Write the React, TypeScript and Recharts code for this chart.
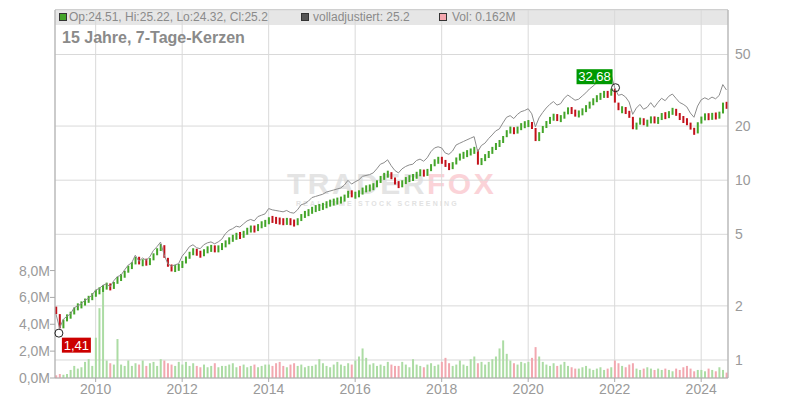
import {
  ComposedChart,
  Bar,
  Line,
  XAxis,
  YAxis,
  CartesianGrid,
  Cell,
  ReferenceDot,
} from 'recharts';

// months after Jan 2009 of the first candle (Feb 2009)
const firstMonth = 1;
const firstOpen = 1.98;

// monthly closes, Feb 2009 .. Aug 2024
const closes = [
  // 2009
  1.8, 1.5, 1.68, 1.75, 1.8, 1.95, 2.0, 2.05, 2.15, 2.2, 2.3,
  // 2010
  2.4, 2.45, 2.55, 2.6, 2.5, 2.7, 2.85, 2.9, 3.1, 3.3, 3.4, 3.75,
  // 2011
  3.4, 3.55, 3.45, 3.6, 3.9, 4.1, 4.35, 3.7, 3.3, 3.2, 3.25, 3.3,
  // 2012
  3.5, 3.7, 3.95, 4.05, 3.9, 3.85, 4.05, 4.15, 4.2, 4.1, 4.2, 4.35,
  // 2013
  4.5, 4.7, 4.8, 4.95, 4.9, 5.1, 5.3, 5.4, 5.3, 5.6, 5.7, 5.8,
  // 2014
  6.1, 6.0, 5.95, 5.9, 5.85, 5.95, 5.8, 5.75, 6.0, 6.4, 6.5, 6.7,
  // 2015
  6.9, 7.0, 7.1, 7.2, 7.4, 7.5, 7.6, 7.7, 7.8, 8.1, 8.6, 8.2,
  // 2016
  8.3, 8.5, 8.9, 9.0, 9.1, 9.3, 9.8, 10.4, 10.6, 11.0, 10.2, 9.6,
  // 2017
  9.3, 9.8, 10.1, 10.3, 10.4, 10.9, 11.1, 10.8, 11.3, 12.2, 12.8, 13.0,
  // 2018
  12.8, 12.0, 11.8, 12.3, 13.3, 13.6, 13.9, 14.2, 14.5, 14.8, 12.2, 13.2,
  // 2019
  13.5, 14.3, 15.0, 15.8, 16.2, 17.5, 18.8, 19.2, 18.5, 19.5, 20.2, 20.5,
  // 2020
  20.8, 19.5, 16.5, 18.5, 19.8, 21.0, 22.0, 22.8, 21.8, 22.2, 23.8, 24.8,
  // 2021
  24.0, 23.2, 23.5, 24.5, 25.5, 26.8, 27.8, 29.0, 29.5, 30.5, 29.5, 32.3,
  // 2022
  27.0, 24.5, 24.8, 24.0, 22.5, 19.2, 20.8, 21.8, 20.5, 21.0, 22.3, 21.0,
  // 2023
  22.0, 23.2, 22.5, 23.8, 24.5, 23.2, 22.0, 21.5, 20.8, 19.2, 18.2, 21.0,
  // 2024
  22.2, 22.8, 22.3, 23.0, 22.5, 23.5, 27.0, 25.2,
];

// weekly volume level per month, in millions
const volumes = [
  0.2, 0.3, 0.25, 0.3, 0.6, 0.9, 0.7, 0.8, 1.2, 1.4, 0.9,
  3.0, 5.2, 6.9, 1.3, 1.1, 1.0, 2.9, 1.0, 0.9, 1.3, 0.9, 1.1,
  1.0, 1.3, 0.9, 1.1, 1.2, 0.9, 1.4, 1.3, 1.1, 1.0, 0.9, 1.2,
  1.0, 1.2, 0.9, 1.1, 0.9, 0.8, 1.0, 0.8, 0.9, 1.1, 0.8, 0.9,
  0.9, 1.0, 1.1, 0.8, 0.9, 1.0, 0.8, 0.9, 1.0, 0.8, 0.9, 1.0,
  1.0, 0.9, 1.1, 1.2, 0.9, 0.8, 1.0, 1.1, 0.9, 1.0, 0.8, 0.9,
  0.9, 1.0, 1.4, 1.1, 0.9, 0.8, 1.0, 1.2, 1.0, 0.9, 1.1, 1.0,
  1.3, 1.6, 2.2, 1.5, 1.0, 1.1, 0.9, 1.0, 0.9, 1.2, 1.0, 0.9,
  0.9, 1.2, 1.0, 0.8, 1.4, 1.0, 0.9, 0.8, 1.0, 1.1, 0.9, 1.0,
  1.2, 1.5, 1.1, 0.9, 1.0, 1.3, 1.0, 0.9, 1.4, 1.6, 1.1, 1.2,
  1.0, 1.2, 1.4, 1.6, 2.2, 2.8, 1.8, 1.3, 1.1, 1.0, 1.2, 1.1,
  1.2, 1.5, 2.3, 1.6, 1.2, 1.0, 0.9, 1.1, 0.9, 1.0, 1.2, 0.9,
  0.8, 0.7, 0.7, 0.8, 0.9, 0.7, 0.6, 0.7, 0.8, 0.6, 0.7, 0.8,
  1.3, 1.1, 0.9, 0.8, 1.0, 1.1, 0.7, 0.6, 0.7, 0.8, 0.7, 0.6,
  0.7, 0.6, 0.7, 0.6, 0.5, 0.7, 0.6, 0.8, 0.9, 0.7, 0.5, 0.6,
  0.6, 0.5, 0.7, 0.6, 0.5, 0.8, 0.6, 0.4,
];

// how far the adjusted line sits above the candles, per year 2009..2024
const adjGap = [1.0, 1.02, 1.04, 1.08, 1.12, 1.14, 1.16, 1.18, 1.18, 1.18, 1.19, 1.2, 1.2, 1.21, 1.23, 1.26];

const yearTicks = [2010, 2012, 2014, 2016, 2018, 2020, 2022, 2024];
const priceTicks = [1, 2, 5, 10, 20, 50];
const volTicks = [0, 2, 4, 6, 8];

const lowPoint = { t: 2009.15, v: 1.41, label: '1,41' };
const highPoint = { t: 2022.02, v: 32.68, label: '32,68' };

const GREEN = '#44a52a';
const RED = '#c3121b';

const data = closes.map((c, i) => {
  const m = firstMonth + i;
  const open = i === 0 ? firstOpen : closes[i - 1];
  const yr = Math.floor(m / 12);
  return {
    t: 2009 + m / 12,
    body: [Math.min(open, c), Math.max(open, c)],
    up: c >= open,
    vol: volumes[i],
    adj: c * adjGap[yr],
  };
});

const font = '"Liberation Sans", Arial, sans-serif';
const axisTick = { fill: '#9a9a9a', fontSize: 14, fontFamily: font };

// candle body, drawn at least a few pixels tall like the dense weekly candles
function Candle(p: any) {
  const { x, y, width, height, fill } = p;
  if (x == null || y == null) return null;
  const minH = 7;
  let top = y;
  let h = Math.abs(height);
  if (height < 0) top = y + height;
  if (h < minH) {
    top = top + h / 2 - minH / 2;
    h = minH;
  }
  return <rect x={x} y={top} width={width} height={h} fill={fill} />;
}

function LowMarker(p: any) {
  const { cx, cy } = p;
  return (
    <g>
      <circle cx={cx} cy={cy} r={4} fill="none" stroke="#222" strokeWidth={1} />
      <rect x={cx + 3} y={cy + 4.5} width={29} height={15} fill="#cc0000" />
      <text x={cx + 17.5} y={cy + 16.5} textAnchor="middle" fill="#fff" fontSize={13} fontFamily={font}>
        {lowPoint.label}
      </text>
    </g>
  );
}

function HighMarker(p: any) {
  const { cx, cy } = p;
  return (
    <g>
      <circle cx={cx} cy={cy} r={4} fill="none" stroke="#222" strokeWidth={1} />
      <rect x={cx - 39} y={cy - 18.5} width={36} height={15} fill="#009900" />
      <text x={cx - 21} y={cy - 6.5} textAnchor="middle" fill="#fff" fontSize={13} fontFamily={font}>
        {highPoint.label}
      </text>
    </g>
  );
}

const sq = (left: number, color: string) => (
  <div
    style={{
      position: 'absolute',
      left,
      top: 13,
      width: 6,
      height: 6,
      background: color,
      border: '1px solid #333',
    }}
  />
);

const legendText = (left: number, text: string) => (
  <div
    style={{
      position: 'absolute',
      left,
      top: 11,
      fontSize: 12,
      lineHeight: '12px',
      color: '#8a8a8a',
      fontFamily: font,
      whiteSpace: 'nowrap',
    }}
  >
    {text}
  </div>
);

export default function App() {
  return (
    <div
      style={{
        position: 'fixed',
        left: 0,
        top: 0,
        width: 800,
        height: 400,
        background: '#fff',
        fontFamily: font,
      }}
    >
      {/* header band */}
      <div
        style={{
          position: 'absolute',
          left: 55,
          top: 9,
          width: 673,
          height: 15,
          background: '#e6e6e6',
          borderTop: '1px solid #c8c8c8',
        }}
      />
      {/* watermark */}
      <div
        style={{
          position: 'absolute',
          left: 287,
          top: 168,
          fontSize: 30,
          fontWeight: 'bold',
          letterSpacing: 2.5,
          lineHeight: '32px',
          whiteSpace: 'nowrap',
        }}
      >
        <span style={{ color: '#e4e4e4' }}>TRADER</span>
        <span style={{ color: '#fbd3d8' }}>FOX</span>
      </div>
      <div
        style={{
          position: 'absolute',
          left: 296,
          top: 200,
          fontSize: 7,
          letterSpacing: 2.2,
          color: '#e2e2e2',
          whiteSpace: 'nowrap',
          fontWeight: 'bold',
        }}
      >
        REAL-TIME STOCK SCREENING
      </div>

      <ComposedChart
        width={800}
        height={400}
        data={data}
        margin={{ top: 10, right: 0, bottom: 0, left: 0 }}
        style={{ position: 'absolute', left: 0, top: 0 }}
      >
        <CartesianGrid xAxisId="p" yAxisId="price" stroke="#d9d9d9" />
        <XAxis
          xAxisId="p"
          dataKey="t"
          type="number"
          domain={[2009.06, 2024.62]}
          allowDataOverflow
          ticks={yearTicks}
          height={22}
          tick={axisTick}
          tickSize={4}
          tickMargin={2}
          stroke="#aaaaaa"
        />
        <XAxis xAxisId="v" dataKey="t" type="number" domain={[2009.06, 2024.62]} allowDataOverflow hide />
        <YAxis
          yAxisId="price"
          orientation="right"
          scale="log"
          domain={[0.794, 88.4]}
          allowDataOverflow
          ticks={priceTicks}
          width={72}
          tick={axisTick}
          tickLine={false}
          tickSize={5}
          tickMargin={2}
          stroke="#aaaaaa"
        />
        <YAxis
          yAxisId="vol"
          orientation="left"
          domain={[0, 27.4]}
          allowDataOverflow
          ticks={volTicks}
          width={55}
          tick={axisTick}
          tickSize={5}
          tickMargin={0}
          stroke="#aaaaaa"
          tickFormatter={(v) => `${v},0M`}
        />
        <Bar xAxisId="v" yAxisId="vol" dataKey="vol" barSize={2} isAnimationActive={false}>
          {data.map((d, i) => (
            <Cell key={i} fill={d.up ? '#acdca4' : '#f2a8b0'} />
          ))}
        </Bar>
        <Line
          xAxisId="p"
          yAxisId="price"
          dataKey="adj"
          stroke="#8c8c8c"
          strokeWidth={1}
          dot={false}
          isAnimationActive={false}
        />
        <Bar
          xAxisId="p"
          yAxisId="price"
          dataKey="body"
          barSize={2}
          shape={Candle}
          isAnimationActive={false}
        >
          {data.map((d, i) => (
            <Cell key={i} fill={d.up ? GREEN : RED} />
          ))}
        </Bar>
        <ReferenceDot xAxisId="p" yAxisId="price" x={lowPoint.t} y={lowPoint.v} r={4} shape={LowMarker} />
        <ReferenceDot xAxisId="p" yAxisId="price" x={highPoint.t} y={highPoint.v} r={4} shape={HighMarker} />
      </ComposedChart>

      {sq(59, '#44a52a')}
      {legendText(69, 'Op:24.51, Hi:25.22, Lo:24.32, Cl:25.2')}
      {sq(301, '#555555')}
      {legendText(313, 'volladjustiert: 25.2')}
      {sq(439, '#f4a6ae')}
      {legendText(452, 'Vol: 0.162M')}
      <div
        style={{
          position: 'absolute',
          left: 62,
          top: 30,
          fontSize: 16,
          lineHeight: '16px',
          fontWeight: 'bold',
          color: '#8a8a8a',
          whiteSpace: 'nowrap',
        }}
      >
        15 Jahre, 7-Tage-Kerzen
      </div>
    </div>
  );
}
